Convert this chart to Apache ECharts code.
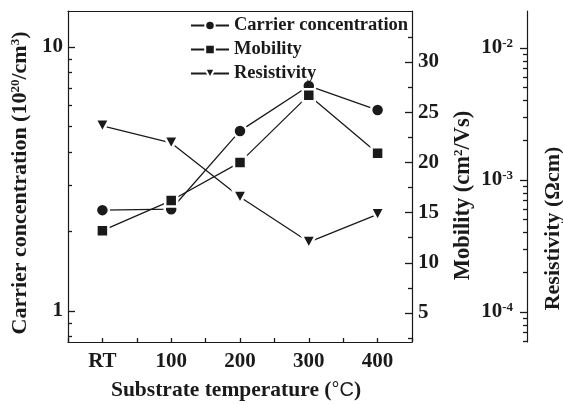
<!DOCTYPE html>
<html>
<head>
<meta charset="utf-8">
<script src="https://cdn.jsdelivr.net/npm/echarts@6/dist/echarts.min.js"></script>
<style>html,body{margin:0;padding:0;background:#fff}#c{width:563px;height:405px}</style>
</head>
<body>
<div id="c"></div>
<script>
// ---- data ----
const categories = ['RT', '100', '200', '300', '400'];
const carrierConc = [2.41, 2.43, 4.81, 7.12, 5.77];          // 10^20 /cm^3
const mobility = [13.2, 16.2, 20.0, 26.7, 20.9];              // cm^2/Vs
const resistivity = [2.57e-3, 1.91e-3, 7.43e-4, 3.39e-4, 5.5e-4]; // ohm cm

// tick values
const concMajor = [1, 10];
const concMinor = [0.8, 0.9, 2, 3, 4, 5, 6, 7, 8, 9];
const mobMajor = [5, 10, 15, 20, 25, 30];
const mobMinor = [2.5, 7.5, 12.5, 17.5, 22.5, 27.5, 32.5];
const resMajor = [1e-4, 1e-3, 1e-2];
const resMinor = [6e-5, 7e-5, 8e-5, 9e-5, 2e-4, 3e-4, 4e-4, 5e-4, 6e-4, 7e-4, 8e-4, 9e-4,
                  2e-3, 3e-3, 4e-3, 5e-3, 6e-3, 7e-3, 8e-3, 9e-3];

const INK = '#1a1a1a';
const FONT = 'Liberation Serif';
const base = {fontFamily: FONT, fontWeight: 700, color: INK};
const sup = {fontFamily: FONT, fontWeight: 700, color: INK, fontSize: 13, verticalAlign: 'top'};

const concRange = {min: 0.763, max: 13.69};
const mobRange = {min: 2.11, max: 35.08};
const resRange = {min: 5.93e-5, max: 1.905e-2};

function pts(vals) { return vals.map((v, i) => [i, v]); }

const chart = echarts.init(document.getElementById('c'), null, {renderer: 'canvas'});

function yAx(opts) {
  const o = Object.assign({splitLine: {show: false}}, opts);
  o.axisLine = Object.assign({show: true, onZero: false, lineStyle: {color: INK, width: 1.2}}, opts.axisLine || {});
  return o;
}
function ticks(values, len) {
  return {show: true, inside: true, length: len, customValues: values, lineStyle: {color: INK, width: 1.3}};
}

const option = {
  backgroundColor: '#fff',
  animation: false,
  grid: {left: 68, right: 151, top: 11, bottom: 63, show: false, outerBoundsMode: 'none', containLabel: false},
  legend: {
    orient: 'vertical', left: 190, top: 16, padding: 0, itemWidth: 38, itemHeight: 12, itemGap: 5,
    textStyle: Object.assign({fontSize: 18.5, lineHeight: 17.5}, base),
    data: ['Carrier concentration', 'Mobility', 'Resistivity']
  },
  xAxis: [{
    type: 'value', min: -0.5, max: 4.5, interval: 0.5,
    splitLine: {show: false},
    axisLine: {onZero: false, lineStyle: {color: INK, width: 1.2}},
    axisTick: {show: true, inside: true, length: 4, lineStyle: {color: INK, width: 1.3}},
    axisLabel: Object.assign({fontSize: 21, margin: 9,
      formatter: v => Number.isInteger(v) ? categories[v] : ''}, base),
    name: '{a|Substrate temperature (}{b|°C}{a|)}',
    nameLocation: 'middle', nameGap: 37,
    nameTextStyle: {padding: [0, 8, 0, 0], rich: {a: Object.assign({fontSize: 21.5}, base), b: {fontFamily: 'Liberation Sans', fontSize: 20, color: INK}}}
  }, {
    // top frame line
    type: 'value', position: 'top', min: -0.5, max: 4.5, interval: 0.5,
    splitLine: {show: false},
    axisLine: {show: true, onZero: false, lineStyle: {color: INK, width: 1.2}},
    axisTick: {show: false}, axisLabel: {show: false}
  }],
  yAxis: [
    // 0 carrier concentration (major)
    yAx(Object.assign({type: 'log', logBase: 10, position: 'left',
      axisTick: ticks(concMajor, 7),
      axisLabel: Object.assign({fontSize: 21, margin: 5, customValues: concMajor}, base),
      name: '{a|Carrier concentration (10}{s|20}{a|/cm}{s|3}{a|)}',
      nameLocation: 'middle', nameRotate: 90, nameGap: 35,
      nameTextStyle: {padding: [0, 13, 0, 0], rich: {a: Object.assign({fontSize: 22}, base), s: sup}}
    }, concRange)),
    // 1 carrier minor ticks
    yAx(Object.assign({type: 'log', logBase: 10, position: 'left',
      axisLine: {show: false},
      axisTick: ticks(concMinor, 4),
      axisLabel: {show: false}
    }, concRange)),
    // 2 mobility (major)
    yAx(Object.assign({type: 'value', position: 'right',
      axisTick: ticks(mobMajor, 7),
      axisLabel: Object.assign({fontSize: 21, margin: 6, customValues: mobMajor}, base),
      name: '{a|Mobility (cm}{s|2}{a|/Vs)}',
      nameLocation: 'middle', nameRotate: 90, nameGap: 40,
      nameTextStyle: {padding: [0, 38, 0, 0], rich: {a: Object.assign({fontSize: 22.5}, base), s: sup}}
    }, mobRange)),
    // 3 mobility minor ticks
    yAx(Object.assign({type: 'value', position: 'right',
      axisLine: {show: false},
      axisTick: ticks(mobMinor, 4),
      axisLabel: {show: false}
    }, mobRange)),
    // 4 resistivity (major)
    yAx(Object.assign({type: 'log', logBase: 10, position: 'right', offset: 115,
      axisTick: ticks(resMajor, 7),
      axisLabel: Object.assign({inside: true, fontSize: 21, margin: 14, customValues: resMajor,
        formatter: v => '10{s|' + Math.round(Math.log10(v)) + '}',
        rich: {s: sup}}, base),
      name: '{a|Resistivity (Ωcm)}',
      nameLocation: 'middle', nameRotate: 90, nameGap: 15,
      nameTextStyle: {padding: [0, 104, 0, 0], rich: {a: Object.assign({fontSize: 22}, base)}}
    }, resRange)),
    // 5 resistivity minor ticks
    yAx(Object.assign({type: 'log', logBase: 10, position: 'right', offset: 115,
      axisLine: {show: false},
      axisTick: ticks(resMinor, 4),
      axisLabel: {show: false}
    }, resRange))
  ],
  series: [
    {name: 'Carrier concentration', type: 'line', yAxisIndex: 0, data: pts(carrierConc),
      symbol: 'circle', symbolSize: 13,
      lineStyle: {color: INK, width: 1.3}, itemStyle: {color: INK, borderColor: '#fff', borderWidth: 2.5}},
    {name: 'Mobility', type: 'line', yAxisIndex: 2, data: pts(mobility),
      symbol: 'rect', symbolSize: 12,
      lineStyle: {color: INK, width: 1.3}, itemStyle: {color: INK, borderColor: '#fff', borderWidth: 2.5}},
    {name: 'Resistivity', type: 'line', yAxisIndex: 4, data: pts(resistivity),
      symbol: 'triangle', symbolRotate: 180, symbolSize: [14, 13],
      lineStyle: {color: INK, width: 1.3}, itemStyle: {color: INK, borderColor: '#fff', borderWidth: 2.5}}
  ]
};
chart.setOption(option);
</script>
</body>
</html>
